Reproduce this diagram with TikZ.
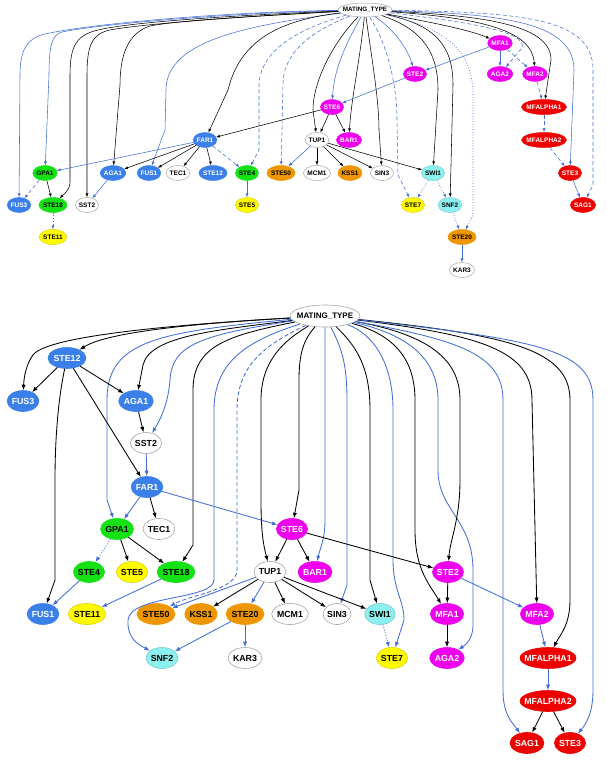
\documentclass[tikz,border=0pt]{standalone}
\usepackage{fontspec}
\setmainfont{Liberation Sans}
\usetikzlibrary{shapes.geometric,arrows.meta}
\definecolor{nblue}{RGB}{58,128,232}
\definecolor{nmag}{RGB}{238,0,238}
\definecolor{ngreen}{RGB}{20,226,20}
\definecolor{nyellow}{RGB}{255,250,0}
\definecolor{norange}{RGB}{238,150,0}
\definecolor{ncyan}{RGB}{140,240,240}
\definecolor{nred}{RGB}{238,0,0}
\definecolor{eblue}{RGB}{66,110,215}
\newcommand{\lb}[1]{\makebox[0pt]{#1}}
\tikzset{
  nd/.style={ellipse, inner sep=0pt},
  tn/.style={nd, minimum width=23pt, minimum height=15pt, line width=0.5pt,
             font=\bfseries\fontsize{6.5}{7}\selectfont},
  bn/.style={nd, minimum width=28pt, minimum height=21pt, line width=0.6pt,
             font=\bfseries\fontsize{8.8}{10}\selectfont},
  fb/.style={fill=nblue, draw=nblue, text=white},
  fm/.style={fill=nmag, draw=nmag, text=white},
  fr/.style={fill=nred, draw=nred, text=white},
  fg/.style={fill=ngreen, draw=ngreen, text=black},
  fy/.style={fill=nyellow, draw=nyellow!85!black, text=black},
  fo/.style={fill=norange, draw=norange, text=black},
  fc/.style={fill=ncyan, draw=ncyan!85!black, text=black},
  fw/.style={fill=white, draw=black!35, text=black},
  te/.style={line width=0.55pt, -{Latex[length=3.8pt,width=3pt]}},
  be/.style={line width=0.85pt, -{Latex[length=5.5pt,width=4.2pt]}},
  ek/.style={draw=black},
  eb/.style={draw=eblue},
  dsh/.style={dash pattern=on 4pt off 2.5pt},
  dts/.style={dash pattern=on 0.9pt off 1.8pt},
}
\begin{document}
\begin{tikzpicture}[x=1pt,y=-1pt]
\useasboundingbox (0,0) rectangle (606,761);

% ---------------- upper network ----------------
\node[tn,fw,minimum width=54pt,minimum height=14pt,font=\bfseries\fontsize{6.3}{7}\selectfont] (tMT) at (365,10) {\lb{MATING\_TYPE}};
\node[tn,fm] (tMFA1) at (500,43) {MFA1};
\node[tn,fm] (tSTE2) at (415,74) {STE2};
\node[tn,fm] (tAGA2) at (500,74) {AGA2};
\node[tn,fm] (tMFA2) at (535,74) {MFA2};
\node[tn,fr,minimum width=45pt] (tMFALPHA1) at (544,107) {\lb{MFALPHA1}};
\node[tn,fm] (tSTE6) at (332,107) {STE6};
\node[tn,fb] (tFAR1) at (205,140) {FAR1};
\node[tn,fw] (tTUP1) at (317,140) {TUP1};
\node[tn,fm] (tBAR1) at (349,140) {BAR1};
\node[tn,fr,minimum width=45pt] (tMFALPHA2) at (544,140) {\lb{MFALPHA2}};
\node[tn,fg] (tGPA1) at (45,173) {GPA1};
\node[tn,fb] (tAGA1) at (113,173) {AGA1};
\node[tn,fb] (tFUS1) at (149,173) {FUS1};
\node[tn,fw] (tTEC1) at (178,173) {TEC1};
\node[tn,fb] (tSTE12) at (213,173) {STE12};
\node[tn,fg] (tSTE4) at (247,173) {STE4};
\node[tn,fo] (tSTE50) at (281,173) {STE50};
\node[tn,fw] (tMCM1) at (317,173) {MCM1};
\node[tn,fo] (tKSS1) at (350,173) {KSS1};
\node[tn,fw] (tSIN3) at (382,173) {SIN3};
\node[tn,fc] (tSWI1) at (433,173) {SWI1};
\node[tn,fr] (tSTE3) at (570,173) {STE3};
\node[tn,fb] (tFUS3) at (19,205) {FUS3};
\node[tn,fg] (tSTE18) at (53,205) {STE18};
\node[tn,fw] (tSST2) at (87,205) {SST2};
\node[tn,fy] (tSTE5) at (247,205) {STE5};
\node[tn,fy] (tSTE7) at (413,205) {STE7};
\node[tn,fc] (tSNF2) at (450,205) {SNF2};
\node[tn,fr] (tSAG1) at (583,205) {SAG1};
\node[tn,fy] (tSTE11) at (53,237) {STE11};
\node[tn,fo] (tSTE20) at (462,237) {STE20};
\node[tn,fw] (tKAR3) at (462,270) {KAR3};

% connectors leaving MATING_TYPE, left side
\draw[te,eb] (tMT) .. controls (220,12) and (90,24) .. (45,34) .. controls (27,38) and (20,50) .. (20,75) -- (tFUS3);
\draw[te,eb] (tMT) .. controls (230,13) and (100,24) .. (62,32) .. controls (52,35) and (49,45) .. (49,75) -- (tGPA1);
\draw[te,ek] (tMT) .. controls (240,15) and (130,22) .. (98,30) .. controls (77,35) and (70,45) .. (70,75) -- (70,182) .. controls (70,190) and (64,194) .. (tSTE18);
\draw[te,ek] (tMT) .. controls (250,16) and (140,24) .. (110,30) .. controls (92,34) and (87,45) .. (87,75) -- (tSST2);
\draw[te,ek] (tMT) .. controls (260,16) and (180,20) .. (150,26) .. controls (128,33) and (120,55) .. (120,85) -- (tAGA1);
\draw[te,eb] (tMT) .. controls (250,25) and (166,40) .. (166,90) -- (165,130) -- (tFUS1);
\draw[te,ek] (tMT) .. controls (280,20) and (240,40) .. (228,90) -- (tFAR1);
\draw[te,eb,dsh] (tMT) .. controls (300,28) and (260,50) .. (259,85) -- (259,150) -- (tSTE4);
\draw[te,eb,dsh] (tMT) .. controls (315,30) and (283,50) .. (283,85) -- (tSTE50);
% connectors leaving MATING_TYPE, middle
\draw[te,ek] (tMT) .. controls (335,40) and (313,80) .. (313,110) -- (tTUP1);
\draw[te,eb] (tMT) .. controls (345,45) and (334,70) .. (tSTE6);
\draw[te,ek] (tMT) .. controls (360,60) and (351,100) .. (tBAR1);
\draw[te,ek] (tMT) .. controls (372,60) and (379,100) .. (379,130) -- (tSIN3);
\draw[te,eb,dsh] (tMT) .. controls (385,40) and (397,80) .. (397,120) -- (398,175) -- (tSTE7);
\draw[te,eb] (tMT) .. controls (395,30) and (408,50) .. (tSTE2);
\draw[te,ek] (tMT) .. controls (425,30) and (438,55) .. (438,90) -- (tSWI1);
\draw[te,ek] (tMT) .. controls (435,25) and (453,45) .. (453,85) -- (tSNF2);
\draw[te,eb,dts] (tMT) .. controls (445,28) and (473,50) .. (473,95) -- (473,215) -- (tSTE20);
% connectors leaving MATING_TYPE, right side
\draw[te,ek] (tMT) .. controls (430,22) and (470,30) .. (tMFA1);
\draw[te,eb,dsh] (tMT) .. controls (470,22) and (528,32) .. (522,48) -- (tAGA2);
\draw[te,ek] (tMT) .. controls (480,18) and (532,30) .. (tMFA2);
\draw[te,ek] (tMT) .. controls (490,16) and (551,26) .. (551,60) -- (tMFALPHA1);
\draw[te,eb] (tMT) .. controls (510,14) and (574,24) .. (574,70) -- (tSTE3);
\draw[te,eb,dsh] (tMT) .. controls (530,12) and (593,20) .. (593,70) -- (593,185) -- (tSAG1);

% remaining connectors
\draw[te,eb] (tMFA1) -- (tSTE2);
\draw[te,eb] (tMFA1) -- (tAGA2);
\draw[te,eb,dsh] (tMFA1) -- (tMFA2);
\draw[te,eb] (tSTE2) -- (tSTE6);
\draw[te,ek] (tSTE6) -- (tFAR1);
\draw[te,ek] (tSTE6) -- (tTUP1);
\draw[te,ek] (tSTE6) -- (tBAR1);
\draw[te,eb] (tFAR1) -- (tGPA1);
\draw[te,ek] (tFAR1) -- (tAGA1);
\draw[te,ek] (tFAR1) -- (tFUS1);
\draw[te,ek] (tFAR1) -- (tTEC1);
\draw[te,ek] (tFAR1) -- (tSTE12);
\draw[te,eb,dsh] (tFAR1) -- (tSTE4);
\draw[te,eb,dsh] (tGPA1) -- (tFUS3);
\draw[te,ek] (tGPA1) -- (tSTE18);
\draw[te,eb] (tAGA1) -- (tSST2);
\draw[te,eb] (tSTE4) -- (tSTE5);
\draw[te,eb,dts] (tSTE18) -- (tSTE11);
\draw[te,eb] (tTUP1) -- (tSTE50);
\draw[te,ek] (tTUP1) -- (tMCM1);
\draw[te,ek] (tTUP1) -- (tKSS1);
\draw[te,ek] (tTUP1) -- (tSIN3);
\draw[te,ek] (tTUP1) -- (tSWI1);
\draw[te,eb,dts] (tSWI1) -- (tSTE7);
\draw[te,eb,dts] (tSWI1) -- (tSNF2);
\draw[te,eb,dts] (tSNF2) -- (tSTE20);
\draw[te,eb] (tSTE20) -- (tKAR3);
\draw[te,eb,dsh] (tMFA2) -- (tMFALPHA1);
\draw[te,eb,dsh] (tMFALPHA1) -- (tMFALPHA2);
\draw[te,eb,dsh] (tMFALPHA2) -- (tSTE3);
\draw[te,eb] (tSTE3) -- (tSAG1);

% ---------------- lower network ----------------
\node[bn,fw,minimum width=70pt,minimum height=22pt,font=\bfseries\fontsize{8}{9}\selectfont] (bMT) at (325,316) {\lb{MATING\_TYPE}};
\node[bn,fb] (bSTE12) at (67,358) {STE12};
\node[bn,fb] (bFUS3) at (23,401) {FUS3};
\node[bn,fb] (bAGA1) at (136,401) {AGA1};
\node[bn,fw] (bSST2) at (146,443) {SST2};
\node[bn,fb] (bFAR1) at (147,487) {FAR1};
\node[bn,fg] (bGPA1) at (117,529) {GPA1};
\node[bn,fw] (bTEC1) at (159,529) {TEC1};
\node[bn,fm] (bSTE6) at (292,529) {STE6};
\node[bn,fg] (bSTE4) at (89,572) {STE4};
\node[bn,fy] (bSTE5) at (132,572) {STE5};
\node[bn,fg] (bSTE18) at (176,572) {STE18};
\node[bn,fw] (bTUP1) at (270,572) {TUP1};
\node[bn,fm] (bBAR1) at (315,572) {BAR1};
\node[bn,fm] (bSTE2) at (448,572) {STE2};
\node[bn,fb] (bFUS1) at (43,614) {FUS1};
\node[bn,fy] (bSTE11) at (87,614) {STE11};
\node[bn,fo] (bSTE50) at (156,614) {STE50};
\node[bn,fo] (bKSS1) at (201,614) {KSS1};
\node[bn,fo] (bSTE20) at (245,614) {STE20};
\node[bn,fw] (bMCM1) at (290,614) {MCM1};
\node[bn,fw] (bSIN3) at (337,614) {SIN3};
\node[bn,fc] (bSWI1) at (380,614) {SWI1};
\node[bn,fm] (bMFA1) at (447,614) {MFA1};
\node[bn,fm] (bMFA2) at (537,614) {MFA2};
\node[bn,fc] (bSNF2) at (162,658) {SNF2};
\node[bn,fw] (bKAR3) at (245,658) {KAR3};
\node[bn,fy] (bSTE7) at (392,658) {STE7};
\node[bn,fm] (bAGA2) at (447,658) {AGA2};
\node[bn,fr,minimum width=56pt] (bMFALPHA1) at (548,658) {\lb{MFALPHA1}};
\node[bn,fr,minimum width=56pt] (bMFALPHA2) at (548,701) {\lb{MFALPHA2}};
\node[bn,fr] (bSAG1) at (527,743) {SAG1};
\node[bn,fr] (bSTE3) at (570,743) {STE3};

% connectors leaving MATING_TYPE, left side
\draw[be,ek] (bMT) .. controls (220,322) and (110,330) .. (bSTE12);
\draw[be,ek] (bMT) .. controls (150,326) and (45,338) .. (33,355) .. controls (27,363) and (24,375) .. (bFUS3);
\draw[be,ek] (bMT) .. controls (220,330) and (150,335) .. (143,365) -- (bAGA1);
\draw[be,eb] (bMT) .. controls (160,332) and (107,340) .. (107,400) -- (107,500) -- (bGPA1);
\draw[be,eb] (bMT) .. controls (200,335) and (172,345) .. (170,380) .. controls (168,405) and (160,420) .. (bSST2);
\draw[be,eb] (bMT) .. controls (250,340) and (214,360) .. (214,410) -- (214,580) .. controls (214,600) and (130,595) .. (128,620) .. controls (127,640) and (140,645) .. (bSNF2);
\draw[be,eb,dsh] (bMT) .. controls (265,345) and (237,365) .. (237,410) -- (237,570) .. controls (237,590) and (190,595) .. (bSTE50);
\draw[be,ek] (bMT) .. controls (230,335) and (193,345) .. (193,390) -- (193,545) -- (bSTE18);
\draw[be,ek] (bMT) .. controls (285,340) and (261,360) .. (261,400) -- (261,500) .. controls (261,540) and (265,550) .. (bTUP1);
\draw[be,ek] (bMT) .. controls (303,340) and (299,355) .. (299,380) -- (299,490) -- (bSTE6);
% connectors leaving MATING_TYPE, right side
\draw[be,eb] (bMT) -- (325,520) .. controls (325,540) and (320,548) .. (bBAR1);
\draw[be,eb] (bMT) .. controls (340,345) and (347,360) .. (347,400) -- (347,585) -- (bSIN3);
\draw[be,ek] (bMT) .. controls (355,345) and (370,365) .. (370,410) -- (370,580) -- (bSWI1);
\draw[be,eb] (bMT) .. controls (375,335) and (393,365) .. (393,410) -- (393,560) .. controls (393,590) and (404,600) .. (404,620) -- (bSTE7);
\draw[be,ek] (bMT) .. controls (395,335) and (415,360) .. (415,400) -- (415,530) .. controls (415,570) and (430,585) .. (bMFA1);
\draw[be,eb] (bMT) .. controls (410,335) and (438,360) .. (438,400) -- (438,470) .. controls (438,510) and (473,520) .. (473,570) -- (473,625) .. controls (473,640) and (465,645) .. (bAGA2);
\draw[be,ek] (bMT) .. controls (430,335) and (460,360) .. (460,400) -- (460,480) .. controls (460,520) and (450,540) .. (bSTE2);
\draw[be,eb] (bMT) .. controls (460,340) and (503,355) .. (503,400) -- (503,690) .. controls (503,715) and (512,722) .. (bSAG1);
\draw[be,ek] (bMT) .. controls (480,335) and (532,350) .. (532,400) -- (bMFA2);
\draw[be,ek] (bMT) .. controls (510,335) and (570,350) .. (570,400) -- (570,600) .. controls (570,625) and (560,635) .. (bMFALPHA1);
\draw[be,eb] (bMT) .. controls (540,340) and (593,350) .. (593,400) -- (593,690) .. controls (593,715) and (585,725) .. (bSTE3);

% remaining connectors
\draw[be,ek] (bSTE12) -- (bFUS3);
\draw[be,ek] (bSTE12) -- (bAGA1);
\draw[be,ek] (bSTE12) -- (bFAR1);
\draw[be,ek] (bSTE12) .. controls (58,400) and (55,440) .. (55,480) -- (55,580) -- (bFUS1);
\draw[be,ek] (bAGA1) -- (bSST2);
\draw[be,eb] (bSST2) -- (bFAR1);
\draw[be,eb] (bFAR1) -- (bGPA1);
\draw[be,ek] (bFAR1) -- (bTEC1);
\draw[be,eb] (bFAR1) -- (bSTE6);
\draw[be,eb,dts] (bGPA1) -- (bSTE4);
\draw[be,ek] (bGPA1) -- (bSTE5);
\draw[be,ek] (bGPA1) -- (bSTE18);
\draw[be,eb] (bSTE4) -- (bFUS1);
\draw[be,eb] (bSTE18) -- (bSTE11);
\draw[be,ek] (bSTE6) -- (bTUP1);
\draw[be,ek] (bSTE6) -- (bBAR1);
\draw[be,ek] (bSTE6) -- (bSTE2);
\draw[be,eb] (bTUP1) -- (bSTE50);
\draw[be,ek] (bTUP1) -- (bKSS1);
\draw[be,eb] (bTUP1) -- (bSTE20);
\draw[be,ek] (bTUP1) -- (bMCM1);
\draw[be,ek] (bTUP1) -- (bSIN3);
\draw[be,ek] (bTUP1) -- (bSWI1);
\draw[be,ek] (bSTE2) -- (bMFA1);
\draw[be,eb] (bSTE2) -- (bMFA2);
\draw[be,eb] (bSTE20) -- (bSNF2);
\draw[be,eb] (bSTE20) -- (bKAR3);
\draw[be,eb,dts] (bSWI1) -- (bSTE7);
\draw[be,ek] (bMFA1) -- (bAGA2);
\draw[be,eb] (bMFA2) -- (bMFALPHA1);
\draw[be,eb] (bMFALPHA1) -- (bMFALPHA2);
\draw[be,ek] (bMFALPHA2) -- (bSAG1);
\draw[be,ek] (bMFALPHA2) -- (bSTE3);
\end{tikzpicture}
\end{document}
